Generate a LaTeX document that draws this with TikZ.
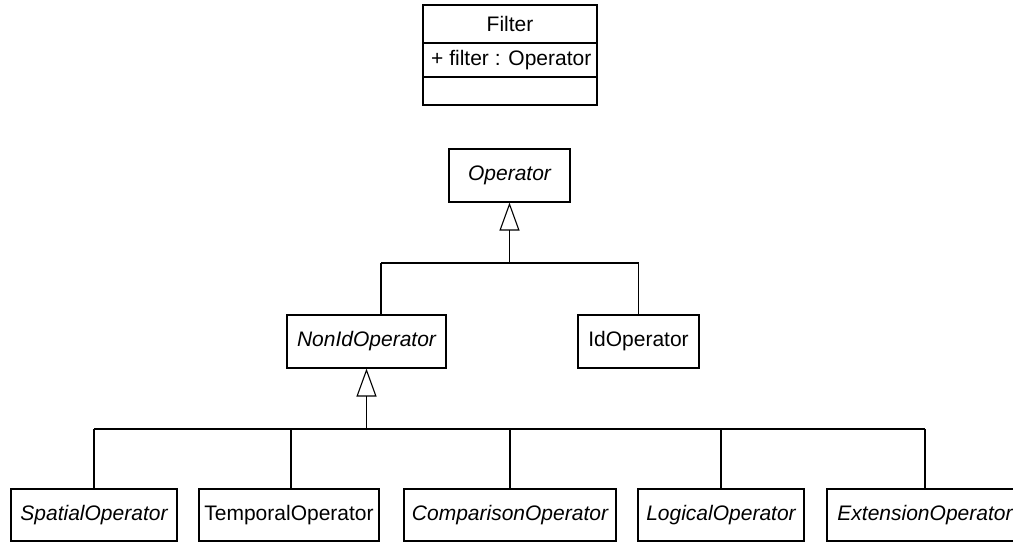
\documentclass[tikz,border=0pt]{standalone}
\usepackage{fontspec}
\setmainfont{Liberation Sans}
\usetikzlibrary{arrows.meta}
\begin{document}
\begin{tikzpicture}[x=1pt,y=-1pt,
  every node/.style={font=\fontsize{21}{25}\selectfont},
  cls/.style={draw, line width=1.1pt, inner sep=0pt, minimum height=53pt},
  abs/.style={cls, font=\fontsize{21}{25}\selectfont\itshape},
  wire/.style={line width=1.1pt},
  gen/.style={line width=1.1pt, -{Triangle[open, length=28pt, width=20pt]}}
]
\useasboundingbox (0,0) rectangle (1013,542);

% Filter class
\node[cls, minimum width=174pt, minimum height=100pt] (filter) at (510,55) {};
\node (ftitle) at (510,24) {Filter};
\coordinate (fd1) at (423,43);
\coordinate (fd2) at (423,77);
\draw[wire] (fd1) -- (fd1 -| filter.east);
\draw[wire] (fd2) -- (fd2 -| filter.east);
\node[anchor=west, inner sep=0pt] (fattr) at (431,60) {+ filter : Operator};

% Operator hierarchy
\node[abs, minimum width=121pt] (op) at (509.5,175.5) {Operator};
\node[abs, minimum width=159pt] (nonid) at (366.5,341.5) {NonIdOperator};
\node[cls, minimum width=121pt] (idop) at (638.5,341.5) {IdOperator};

\node[abs, minimum width=166pt, minimum height=52pt] (spat) at (94,515) {SpatialOperator};
\node[cls, minimum width=180pt, minimum height=52pt] (temp) at (289,515) {TemporalOperator};
\node[abs, minimum width=212pt, minimum height=52pt] (comp) at (510,515) {ComparisonOperator};
\node[abs, minimum width=166pt, minimum height=52pt] (logi) at (721,515) {LogicalOperator};
\node[abs, minimum width=196pt, minimum height=52pt] (ext) at (925,515) {ExtensionOperator};

% first generalization
\coordinate (b1) at (509.5,263);
\coordinate (j1) at (381,263);
\draw[gen] (b1) -- (op.south);
\draw[wire] (j1) -- (idop.north |- b1);
\draw[wire] (j1) -- (j1 |- nonid.north);
\draw[wire] (idop.north |- b1) -- (idop.north);

% second generalization
\coordinate (b2) at (366.5,429);
\coordinate (tj) at (291,429);
\draw[gen] (b2) -- (nonid.south);
\draw[wire] (spat.north |- b2) -- (ext.north |- b2);
\draw[wire] (spat.north |- b2) -- (spat.north);
\draw[wire] (tj) -- (tj |- temp.north);
\draw[wire] (comp.north |- b2) -- (comp.north);
\draw[wire] (logi.north |- b2) -- (logi.north);
\draw[wire] (ext.north |- b2) -- (ext.north);
\end{tikzpicture}
\end{document}
